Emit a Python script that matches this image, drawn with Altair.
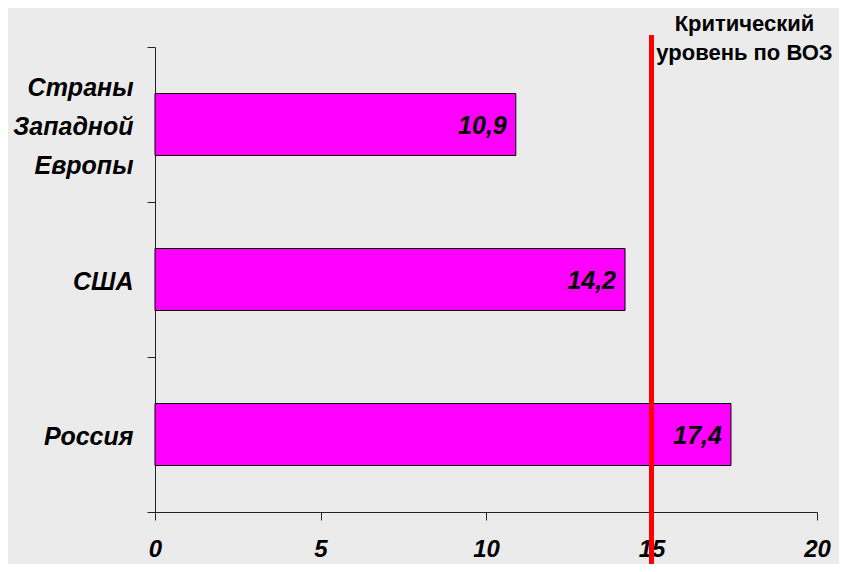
import altair as alt
import pandas as pd

categories = ["Страны Западной Европы", "США", "Россия"]
values = [10.9, 14.2, 17.4]
value_labels = ["10,9", "14,2", "17,4"]
critical_level = [15]
critical_text = ["Критический\nуровень по ВОЗ"]
x_ticks = [0, 5, 10, 15, 20]

df = pd.DataFrame({"cat": categories, "val": values, "lab": value_labels})
crit = pd.DataFrame({"x": critical_level, "t": critical_text})

FONT = "Liberation Sans, Arial, sans-serif"

y_enc = alt.Y(
    "cat:N",
    sort=categories,
    title=None,
    scale=alt.Scale(paddingInner=0, paddingOuter=0),
    axis=alt.Axis(
        tickBand="extent",
        tickSize=8,
        tickColor="#222",
        domainColor="#222",
        labelFont=FONT,
        labelFontSize=25,
        labelFontWeight="bold",
        labelFontStyle="italic",
        labelColor="black",
        labelPadding=14,
        labelExpr="length(split(datum.label, ' ')) > 1 ? split(datum.label, ' ') : ['', datum.label, '']",
        labelLineHeight=39,
        labelAlign="right",
        labelBaseline="middle",
        labelOffset=-37,
        grid=False,
    ),
)

x_scale = alt.Scale(domain=[0, 20], nice=False)
x_enc = alt.X(
    "val:Q",
    scale=x_scale,
    title=None,
    axis=alt.Axis(
        values=x_ticks,
        tickSize=8,
        tickColor="#222",
        domainColor="#222",
        labelFont=FONT,
        labelFontSize=24,
        labelFontWeight="bold",
        labelFontStyle="italic",
        labelColor="black",
        labelPadding=17,
        labelFlush=False,
        grid=False,
    ),
)

bars = alt.Chart(df).mark_bar(
    color="#FF00FF", stroke="black", strokeWidth=1, height={"band": 0.4}
).encode(x=x_enc, y=y_enc)

texts = alt.Chart(df).mark_text(
    align="right", baseline="middle", dx=-9, dy=1,
    font=FONT, fontSize=25, fontWeight="bold", fontStyle="italic", color="black"
).encode(x=alt.X("val:Q", scale=x_scale), y=alt.Y("cat:N", sort=categories), text="lab:N")

rule = alt.Chart(crit).mark_rule(color="#FF0000", strokeWidth=5).encode(
    x=alt.X("x:Q", scale=x_scale),
    y=alt.value(-12),
    y2=alt.value(530),
)

ann = alt.Chart(crit).mark_text(
    align="center", baseline="alphabetic", dx=93, lineBreak="\n", lineHeight=29,
    font=FONT, fontSize=22, fontWeight="bold", color="black"
).encode(x=alt.X("x:Q", scale=x_scale), y=alt.value(-16), text="t:N")

chart = alt.layer(bars, texts, rule, ann).properties(
    width=662,
    height=465,
    padding={"left": 147, "top": 39, "right": 22, "bottom": 52},
    autosize=alt.AutoSizeParams(type="none"),
    background="#ebebeb",
).configure_view(stroke=None)

chart.save("out.html", embed_options={"renderer": "svg", "actions": False})
